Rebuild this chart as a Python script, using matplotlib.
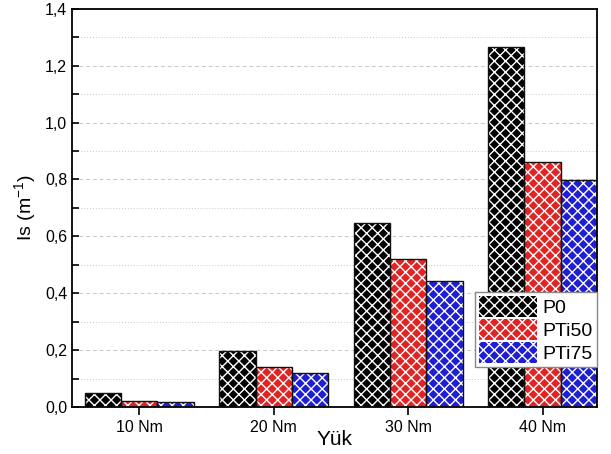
import numpy as np
import matplotlib
matplotlib.use("Agg")
import matplotlib.pyplot as plt
from matplotlib.ticker import MultipleLocator, FuncFormatter
from matplotlib.patches import Patch

plt.rcParams["font.family"] = ["Liberation Sans", "DejaVu Sans"]
plt.rcParams["hatch.linewidth"] = 1.0

loads = ["10 Nm", "20 Nm", "30 Nm", "40 Nm"]
series = ["P0", "PTi50", "PTi75"]
p0 = [0.05, 0.198, 0.648, 1.266]
pti50 = [0.02, 0.142, 0.522, 0.862]
pti75 = [0.018, 0.12, 0.443, 0.798]
colors = ["#000000", "#e02424", "#1e1ed2"]


def comma(v, pos):
    return f"{v:.1f}".replace(".", ",")


fig = plt.figure(figsize=(6.11, 4.54), dpi=100)
ax = fig.add_axes([0.118, 0.1035, 0.859, 0.877])

x = np.arange(len(loads))
w = 0.27
handles = []
for i, (vals, c, name) in enumerate(zip([p0, pti50, pti75], colors, series)):
    pos = x + (i - 1) * w
    ax.bar(pos, vals, w, color=c, edgecolor="white", hatch="xxx", linewidth=0, zorder=2)
    ax.bar(pos, vals, w, fill=False, edgecolor="#111111", linewidth=1.0, zorder=3)
    handles.append(Patch(facecolor=c, edgecolor="white", hatch="xxx", linewidth=0))

ax.set_xlim(-0.5, 3.405)
ax.set_ylim(0, 1.4)
ax.set_xticks(x)
ax.set_xticklabels(loads, fontsize=11.5)
ax.yaxis.set_major_locator(MultipleLocator(0.2))
ax.yaxis.set_minor_locator(MultipleLocator(0.1))
ax.yaxis.set_major_formatter(FuncFormatter(comma))
ax.tick_params(axis="y", which="both", direction="in", length=5, width=1.2, labelsize=11.5, right=False)
ax.tick_params(axis="x", direction="out", length=6, width=1.2, pad=3)
ax.tick_params(axis="x", which="minor", bottom=False)
ax.grid(axis="y", which="major", linestyle=(0, (4, 3)), color="#c8c8c8", linewidth=0.7, zorder=0)
ax.grid(axis="y", which="minor", linestyle=(0, (1, 2)), color="#c8c8c8", linewidth=0.7, zorder=0)
ax.set_axisbelow(True)
for s in ax.spines.values():
    s.set_linewidth(1.3)

ax.set_ylabel("Is (m$^{\\mathregular{-1}}$)", fontsize=14, labelpad=4)
ax.set_xlabel("Yük", fontsize=15, labelpad=-3)

leg = ax.legend(handles, series, loc="lower right", bbox_to_anchor=(1.0, 0.1), fontsize=14,
                fancybox=False, framealpha=1, edgecolor="#888888", handlelength=3.0,
                handleheight=1.3, handletextpad=0.3, borderpad=0.2, labelspacing=0.1,
                borderaxespad=0)
leg.get_frame().set_linewidth(1.0)

fig.savefig("out.png", dpi=100)
